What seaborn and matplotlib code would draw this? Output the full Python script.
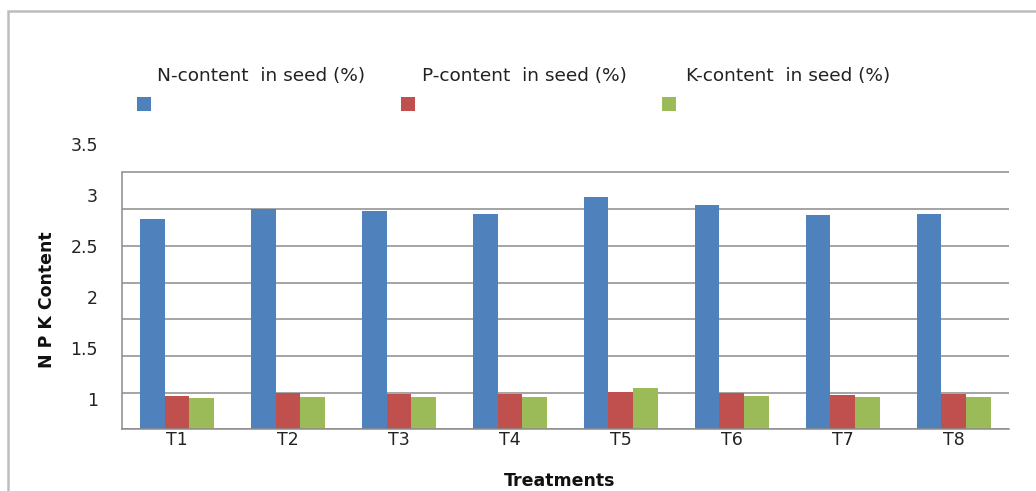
import numpy as np
import pandas as pd
import matplotlib
matplotlib.use("Agg")
import matplotlib.pyplot as plt
from matplotlib.ticker import FixedLocator, FixedFormatter, NullFormatter
from matplotlib.patches import Rectangle
import seaborn as sns

# ---- data ----
treatments = ["T1", "T2", "T3", "T4", "T5", "T6", "T7", "T8"]
series_names = ["N-content  in seed (%)", "P-content  in seed (%)", "K-content  in seed (%)"]
n_content = [2.86, 3.00, 2.98, 2.94, 3.16, 3.05, 2.92, 2.94]
p_content = [0.45, 0.49, 0.48, 0.48, 0.51, 0.50, 0.47, 0.48]
k_content = [0.42, 0.44, 0.44, 0.44, 0.56, 0.45, 0.44, 0.44]
ytick_labels = ["1", "1.5", "2", "2.5", "3", "3.5"]

colors = ["#4F81BD", "#C0504D", "#9BBB59"]

df = pd.DataFrame({
    "Treatment": treatments * 3,
    "Nutrient": [series_names[0]] * 8 + [series_names[1]] * 8 + [series_names[2]] * 8,
    "Value": n_content + p_content + k_content,
})

sns.set_style("white")
plt.rcParams["font.family"] = ["DejaVu Sans"]

W, H = 1036, 491
fig = plt.figure(figsize=(W / 100, H / 100), dpi=100)

def fx(px):
    return px / W

def fy(py):
    return 1 - py / H

ax_left, ax_right, ax_bottom, ax_top = 121.7, 1009, 429.3, 139.4
ax = fig.add_axes([fx(ax_left), fy(ax_bottom), fx(ax_right - ax_left), (ax_bottom - ax_top) / H])

sns.barplot(data=df, x="Treatment", y="Value", hue="Nutrient", palette=colors,
            width=0.667, saturation=1, ax=ax, legend=False, linewidth=0)

grid_col = "#8C8C8C"
fs = 12.5
ax.set_ylim(0, 3.95)
ax.set_xlim(-0.5, len(treatments) - 0.5)

# gridlines (major ticks) at 0..3.5
ax.yaxis.set_major_locator(FixedLocator(np.arange(0, 3.51, 0.5)))
ax.yaxis.set_major_formatter(NullFormatter())
ax.grid(axis="y", which="major", color=grid_col, linewidth=1.1)
ax.set_axisbelow(True)
ax.tick_params(axis="y", which="major", length=6, width=1, color=grid_col, labelleft=False)

# tick labels as shown in the figure
label_pos = [0.41 + i * 0.695 for i in range(len(ytick_labels))]
ax.yaxis.set_minor_locator(FixedLocator(label_pos))
ax.yaxis.set_minor_formatter(FixedFormatter(ytick_labels))
ax.tick_params(axis="y", which="minor", length=0, pad=17, labelsize=fs, labelcolor="#222222")

ax.tick_params(axis="x", length=0, pad=1, labelsize=fs, labelcolor="#222222")

for s in ["top", "right"]:
    ax.spines[s].set_visible(False)
ax.spines["left"].set_bounds(0, 3.5)
ax.spines["left"].set_color(grid_col)
ax.spines["left"].set_linewidth(1.1)
ax.spines["bottom"].set_color(grid_col)
ax.spines["bottom"].set_linewidth(1.1)

ax.set_xlabel("")
ax.set_ylabel("")

fig.text(fx(560), fy(481), "Treatments", ha="center", va="center",
         fontsize=fs, fontweight="bold", color="#111111")
fig.text(fx(47), fy(300), "N P K Content", ha="center", va="center", rotation=90,
         fontsize=fs, fontweight="bold", color="#111111")

# legend: text above coloured square
leg_text_x = [157, 422, 686]
leg_box_x = [137, 401, 662]
for name, col, tx, bx in zip(series_names, colors, leg_text_x, leg_box_x):
    fig.text(fx(tx), fy(76), name, ha="left", va="center", fontsize=13.3, color="#222222")
    fig.patches.append(Rectangle((fx(bx), fy(111)), fx(14), 14 / H, transform=fig.transFigure,
                                 facecolor=col, edgecolor="none"))

# outer chart border
fig.patches.append(Rectangle((fx(8), fy(H + 10)), fx(W + 20), (H + 10 - 11) / H,
                             transform=fig.transFigure, facecolor="none",
                             edgecolor="#BDBDBD", linewidth=1.8))

fig.savefig("out.png", dpi=100)
